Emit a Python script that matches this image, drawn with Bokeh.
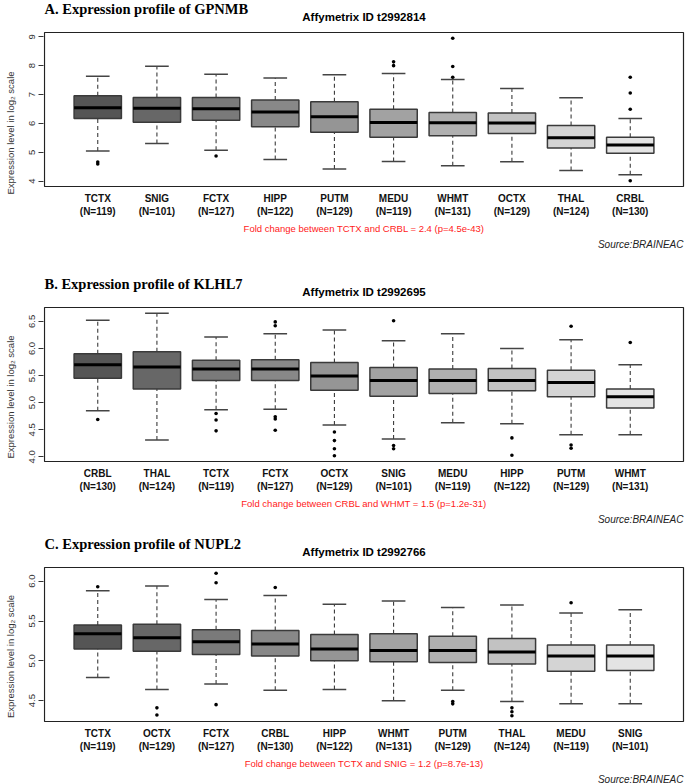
from bokeh.plotting import figure
from bokeh.models import Range1d, FixedTicker, Label, LabelSet, ColumnDataSource
from bokeh.core.properties import value
from bokeh.layouts import column
from bokeh.embed import file_html
from bokeh.resources import INLINE

# ---------------- data ----------------
# Panel A: GPNMB
cats_a = ["TCTX", "SNIG", "FCTX", "HIPP", "PUTM", "MEDU", "WHMT", "OCTX", "THAL", "CRBL"]
n_a = [119, 101, 127, 122, 129, 119, 131, 129, 124, 130]
lo_a = [5.04, 5.30, 5.07, 4.75, 4.42, 4.68, 4.53, 4.67, 4.37, 4.22]
q1_a = [6.17, 6.04, 6.11, 5.88, 5.69, 5.52, 5.57, 5.65, 5.15, 4.96]
med_a = [6.54, 6.52, 6.51, 6.39, 6.23, 6.03, 6.02, 6.01, 5.50, 5.25]
q3_a = [6.96, 6.90, 6.90, 6.81, 6.75, 6.49, 6.38, 6.36, 5.93, 5.52]
hi_a = [7.63, 7.98, 7.70, 7.57, 7.68, 7.73, 7.52, 7.21, 6.89, 6.17]
out_a = [[4.66, 4.59], [], [4.87], [], [], [8.13, 8.00], [8.95, 7.97, 7.60], [], [], [7.60, 7.05, 6.49, 4.01]]
ticks_a = [4, 5, 6, 7, 8, 9]

# Panel B: KLHL7
cats_b = ["CRBL", "THAL", "TCTX", "FCTX", "OCTX", "SNIG", "MEDU", "HIPP", "PUTM", "WHMT"]
n_b = [130, 124, 119, 127, 129, 101, 119, 122, 129, 131]
lo_b = [4.85, 4.31, 4.87, 4.88, 4.59, 4.33, 4.63, 4.61, 4.41, 4.41]
q1_b = [5.45, 5.25, 5.41, 5.41, 5.23, 5.12, 5.17, 5.22, 5.11, 4.90]
med_b = [5.70, 5.66, 5.62, 5.62, 5.49, 5.41, 5.41, 5.41, 5.37, 5.11]
q3_b = [5.90, 5.94, 5.78, 5.79, 5.74, 5.65, 5.62, 5.63, 5.60, 5.25]
hi_b = [6.52, 6.65, 6.21, 6.27, 6.34, 6.14, 6.27, 6.00, 6.16, 5.70]
out_b = [[4.69], [], [4.80, 4.68, 4.48], [6.49, 6.42, 4.74, 4.70, 4.49], [4.46, 4.30, 4.15, 4.02],
         [6.51, 4.21, 4.15], [], [4.35, 4.03], [6.41, 4.22, 4.16], [6.11]]
ticks_b = [4.0, 4.5, 5.0, 5.5, 6.0, 6.5]

# Panel C: NUPL2
cats_c = ["TCTX", "OCTX", "FCTX", "CRBL", "HIPP", "WHMT", "PUTM", "THAL", "MEDU", "SNIG"]
n_c = [119, 129, 127, 130, 122, 131, 129, 124, 119, 101]
lo_c = [4.79, 4.64, 4.71, 4.63, 4.64, 4.50, 4.63, 4.49, 4.46, 4.46]
q1_c = [5.15, 5.12, 5.08, 5.06, 5.00, 4.99, 4.98, 4.96, 4.87, 4.88]
med_c = [5.34, 5.29, 5.24, 5.21, 5.15, 5.13, 5.13, 5.11, 5.06, 5.06]
q3_c = [5.45, 5.46, 5.39, 5.38, 5.33, 5.34, 5.31, 5.28, 5.20, 5.20]
hi_c = [5.88, 5.94, 5.77, 5.82, 5.71, 5.75, 5.67, 5.70, 5.60, 5.64]
out_c = [[5.93], [4.41, 4.32], [6.10, 5.98, 4.45], [5.92], [], [], [4.49, 4.46], [4.41, 4.36, 4.31], [5.73], []]
ticks_c = [4.5, 5.0, 5.5, 6.0]

titles = ["A. Expression profile of GPNMB", "B. Expression profile of KLHL7", "C. Expression profile of NUPL2"]
probe_ids = ["Affymetrix ID t2992814", "Affymetrix ID t2992695", "Affymetrix ID t2992766"]
folds = ["Fold change between TCTX and CRBL = 2.4 (p=4.5e-43)",
         "Fold change between CRBL and WHMT = 1.5 (p=1.2e-31)",
         "Fold change between TCTX and SNIG = 1.2 (p=8.7e-13)"]
source_text = "Source:BRAINEAC"
ylab = "Expression level in log\u2082 scale"

box_colors = ["#555555", "#676767", "#7a7a7a", "#888888", "#959595",
              "#a2a2a2", "#b0b0b0", "#c2c2c2", "#d4d4d4", "#e4e4e4"]

SANS = "Liberation Sans"
SERIF = "Liberation Serif"
W = 685
BL = 43          # left border (y axis)
BOX_H = 154      # height of the boxed plot region in px
BOX_W = 639      # width of the boxed plot region in px


def panel(cats, ns, lo, q1, med, q3, hi, outs, ticks, fmt, title, pid, fold, height, top):
    allv = lo + hi + [v for o in outs for v in o]
    ymin, ymax = min(allv), max(allv)
    r = ymax - ymin
    y0, y1 = ymin - 0.04 * r, ymax + 0.04 * r      # R-style 4% extension
    x0, x1 = 0.1, 10.9
    ppu = BOX_H / (y1 - y0)
    ppx = BOX_W / (x1 - x0)
    # the frame covers the whole panel, the "box" sits inside it
    yr = Range1d(y0 - (height - top - BOX_H) / ppu, y1 + top / ppu)
    xr = Range1d(x0 - 1 / ppx, x1 + 2 / ppx)
    p = figure(width=W, height=height, x_range=xr, y_range=yr, title=None,
               output_backend="svg", toolbar_location=None, x_axis_location=None,
               min_border_left=BL, min_border_right=0, min_border_top=0,
               min_border_bottom=0, background_fill_color="white",
               border_fill_color="white")
    p.grid.visible = False
    p.outline_line_color = None
    ax = p.yaxis[0]
    ax.ticker = FixedTicker(ticks=ticks)
    ax.major_label_overrides = {t: fmt.format(t) for t in ticks}
    ax.major_label_orientation = "vertical"
    ax.major_label_text_font = SANS
    ax.major_label_text_font_size = "9.5px"
    ax.major_label_text_color = "#333333"
    ax.major_label_standoff = 3
    ax.major_tick_out = 5
    ax.major_tick_in = 0
    ax.major_tick_line_color = "#333333"
    ax.minor_tick_line_color = None
    ax.axis_line_color = None
    ax.axis_label = ylab
    ax.axis_label_text_font = SANS
    ax.axis_label_text_font_size = "9.5px"
    ax.axis_label_text_font_style = "normal"
    ax.axis_label_text_color = "#333333"
    ax.axis_label_standoff = 11

    # plot box (R's box())
    p.quad(left=[x0], right=[x1], bottom=[y0], top=[y1], fill_color=None,
           line_color="#222222", line_width=1.2)

    pos = list(range(1, len(cats) + 1))
    lc = "#3a3a3a"
    # whiskers
    p.segment(x0=pos, x1=pos, y0=q3, y1=hi, line_color=lc, line_width=1.1, line_dash="4 3")
    p.segment(x0=pos, x1=pos, y0=lo, y1=q1, line_color=lc, line_width=1.1, line_dash="4 3")
    # staples
    p.segment(x0=[x - 0.2 for x in pos], x1=[x + 0.2 for x in pos], y0=hi, y1=hi,
              line_color="#444444", line_width=1.5)
    p.segment(x0=[x - 0.2 for x in pos], x1=[x + 0.2 for x in pos], y0=lo, y1=lo,
              line_color="#444444", line_width=1.5)
    # boxes
    p.vbar(x=pos, width=0.8, bottom=q1, top=q3, fill_color=box_colors,
           line_color=lc, line_width=1.5)
    # medians
    p.segment(x0=[x - 0.4 for x in pos], x1=[x + 0.4 for x in pos], y0=med, y1=med,
              line_color="black", line_width=3)
    # outliers
    ox = [pos[i] for i, o in enumerate(outs) for _ in o]
    oy = [v for o in outs for v in o]
    p.scatter(x=ox, y=oy, size=3.6, marker="circle", fill_color="black", line_color=None)

    def below(px):
        return y0 - px / ppu

    def above(px):
        return y1 + px / ppu

    xc = (x0 + x1) / 2
    p.add_layout(Label(x=x0, y=above(24), text=title, text_font=SERIF, text_font_size="14.5px",
                       text_font_style="bold", text_align="left", text_baseline="middle",
                       text_color="black"))
    p.add_layout(Label(x=xc, y=above(15.5), text=pid, text_font=SANS, text_font_size="11.5px",
                       text_font_style="bold", text_align="center", text_baseline="middle",
                       text_color="black"))
    src1 = ColumnDataSource(dict(x=pos, y=[below(11.5)] * len(pos), t=cats))
    src2 = ColumnDataSource(dict(x=pos, y=[below(24.5)] * len(pos), t=["(N=%d)" % n for n in ns]))
    for s in (src1, src2):
        p.add_layout(LabelSet(x="x", y="y", text="t", source=s, text_font=value(SANS),
                              text_font_size=value("10px"), text_font_style="bold",
                              text_align="center", text_baseline="middle", text_color="#111111"))
    p.add_layout(Label(x=xc, y=below(41.5), text=fold, text_font=SANS, text_font_size="9.5px",
                       text_align="center", text_baseline="middle", text_color="#ff1a1a"))
    p.add_layout(Label(x=x1, y=below(58), text=source_text, text_font=SANS, text_font_size="10px",
                       text_font_style="italic", text_align="right", text_baseline="middle",
                       text_color="#222222"))
    return p


# figure heights / box offsets chosen to place the three boxes as in the reference
pa = panel(cats_a, n_a, lo_a, q1_a, med_a, q3_a, hi_a, out_a, ticks_a, "{:.0f}",
           titles[0], probe_ids[0], folds[0], 265, 32)
pb = panel(cats_b, n_b, lo_b, q1_b, med_b, q3_b, hi_b, out_b, ticks_b, "{:.1f}",
           titles[1], probe_ids[1], folds[1], 263, 42)
pc = panel(cats_c, n_c, lo_c, q1_c, med_c, q3_c, hi_c, out_c, ticks_c, "{:.1f}",
           titles[2], probe_ids[2], folds[2], 256, 39)

layout = column(pa, pb, pc, spacing=0)
open("out.html", "w").write(file_html(layout, INLINE))
